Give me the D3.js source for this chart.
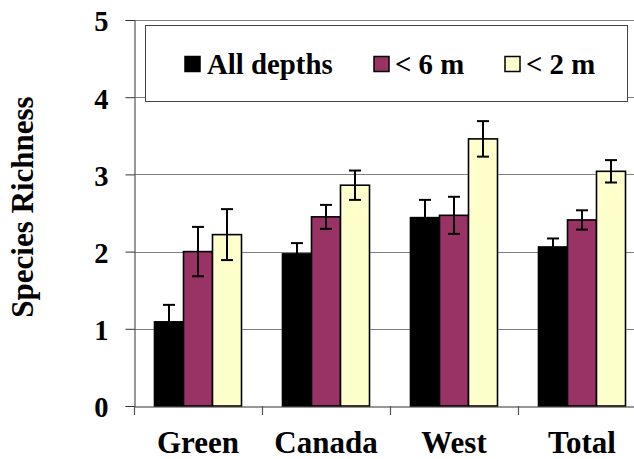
<!DOCTYPE html>
<html><head><meta charset="utf-8">
<script src="https://cdn.jsdelivr.net/npm/d3@7"></script>
<style>body{margin:0;background:#fff}svg{display:block}</style>
</head><body>
<script>
const categories = ["Green", "Canada", "West", "Total"];
const seriesNames = ["All depths", "< 6 m", "< 2 m"];
const seriesColors = ["#000000", "#993366", "#FFFFCC"];
const allDepths = [1.09, 1.97, 2.44, 2.06];
const allDepthsErr = [0.22, 0.14, 0.23, 0.11];
const lt6m = [2.00, 2.45, 2.47, 2.41];
const lt6mErr = [0.32, 0.155, 0.24, 0.125];
const lt2m = [2.22, 2.86, 3.46, 3.04];
const lt2mErr = [0.33, 0.19, 0.23, 0.145];
const yTicks = [0, 1, 2, 3, 4, 5];
const yTitle = "Species Richness";

const values = [allDepths, lt6m, lt2m];
const errs = [allDepthsErr, lt6mErr, lt2mErr];

const W = 634, H = 459;
const font = "'Liberation Serif','Times New Roman',serif";
const svg = d3.select("body").append("svg").attr("width", W).attr("height", H);

const x = d3.scaleBand().domain(categories).range([134, 646]).paddingInner(0).paddingOuter(0);
const xs = d3.scaleBand().domain(seriesNames).range([0, x.bandwidth()]).paddingInner(0).paddingOuter(0.707);
const y = d3.scaleLinear().domain([0, 5]).range([406, 20]);

// gridlines
svg.append("g").selectAll("line").data(yTicks.filter(d => d > 0)).join("line")
  .attr("x1", 134).attr("x2", 646)
  .attr("y1", d => Math.round(y(d)) + 0.5).attr("y2", d => Math.round(y(d)) + 0.5)
  .attr("stroke", "#808080").attr("stroke-width", 1.2);

// legend
const lg = svg.append("g");
lg.append("rect").attr("x", 145.5).attr("y", 25.5).attr("width", 482).attr("height", 76)
  .attr("fill", "#fff").attr("stroke", "#444").attr("stroke-width", 1);
const legX = [185, 374, 505];
const legTX = [207, 395, 526];
seriesNames.forEach((s, i) => {
  lg.append("rect").attr("x", legX[i]).attr("y", 56.5).attr("width", 15).attr("height", 15)
    .attr("fill", seriesColors[i]).attr("stroke", "#000").attr("stroke-width", 1.5);
  lg.append("text").attr("x", legTX[i]).attr("y", 74).text(s)
    .attr("font-family", font).attr("font-weight", "bold").attr("font-size", 28.8).attr("fill", "#000");
});

// bars
const groups = svg.append("g").selectAll("g").data(categories).join("g")
  .attr("transform", d => `translate(${x(d)},0)`);
seriesNames.forEach((s, si) => {
  groups.append("rect")
    .attr("x", xs(s)).attr("width", xs.bandwidth())
    .attr("y", (d, ci) => y(values[si][ci])).attr("height", (d, ci) => y(0) - y(values[si][ci]))
    .attr("fill", seriesColors[si]).attr("stroke", "#000").attr("stroke-width", 1.6);
});
// error bars
seriesNames.forEach((s, si) => {
  const cx = xs(s) + xs.bandwidth() / 2;
  groups.each(function(d, ci) {
    const g = d3.select(this);
    const v = values[si][ci], e = errs[si][ci];
    g.append("line").attr("x1", cx).attr("x2", cx).attr("y1", y(v - e)).attr("y2", y(v + e))
      .attr("stroke", "#000").attr("stroke-width", 2);
    [v - e, v + e].forEach(t => {
      g.append("line").attr("x1", cx - 6).attr("x2", cx + 6).attr("y1", y(t)).attr("y2", y(t))
        .attr("stroke", "#000").attr("stroke-width", 2);
    });
  });
});

// y axis
const yAxis = svg.append("g").attr("transform", "translate(134.5,0)")
  .call(d3.axisLeft(y).tickValues(yTicks).tickSize(9).tickPadding(17).tickFormat(d3.format("d")));
yAxis.select(".domain").attr("stroke", "#555").attr("stroke-width", 1.2);
yAxis.selectAll(".tick line").attr("stroke", "#333");
yAxis.selectAll("text").attr("font-family", font).attr("font-weight", "bold").attr("font-size", 28.5)
  .attr("fill", "#000").attr("dy", "0.38em");

// x axis
const xAxis = svg.append("g").attr("transform", "translate(0,406.5)")
  .call(d3.axisBottom(x).tickSize(0).tickPadding(24));
xAxis.select(".domain").attr("stroke", "#333").attr("stroke-width", 1.2);
xAxis.selectAll("text").attr("font-family", font).attr("font-weight", "bold").attr("font-size", 31)
  .attr("fill", "#000");
// category boundary ticks
const bounds = categories.map(c => x(c));
svg.append("g").selectAll("line").data(bounds).join("line")
  .attr("x1", d => d + 0.5).attr("x2", d => d + 0.5).attr("y1", 406).attr("y2", 415)
  .attr("stroke", "#555").attr("stroke-width", 1.2);

// y title
svg.append("text").attr("transform", "translate(33,207) rotate(-90)")
  .attr("text-anchor", "middle").text(yTitle)
  .attr("font-family", font).attr("font-weight", "bold").attr("font-size", 31).attr("fill", "#000");
</script>
</body></html>
